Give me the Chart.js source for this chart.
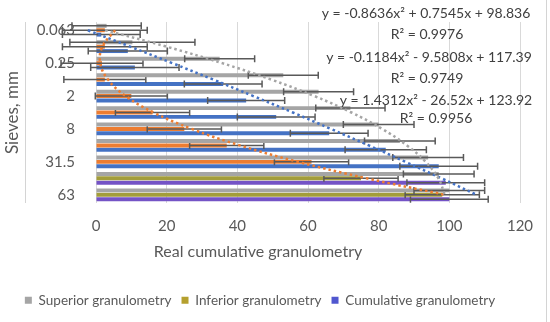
<!DOCTYPE html>
<html>
<head>
<meta charset="utf-8">
<script src="https://cdn.jsdelivr.net/npm/chart.js@4.4.1/dist/chart.umd.min.js"></script>
<style>
  html, body { margin: 0; padding: 0; background: #fff; }
  #box { width: 550px; height: 322px; position: relative; }
</style>
</head>
<body>
<div id="box"><canvas id="sieveChart"></canvas></div>
<script>
// sieve sizes, top to bottom
const sieves = ['0.063', '0.125', '0.25', '0.5', '2', '4', '8', '16', '31.5', '40', '63'];

// bar values (% passing)
const superior   = [3, 10.3, 35, 53, 63, 72, 80, 86, 94, 97, 100];
const inferior   = [2.5, 2.5, 1.7, 2.5, 10, 16, 25, 37, 61, 75, 98];
const cumulative = [1.5, 9, 11, 36, 42.5, 51, 66, 82, 97, 99, 100];

// error bar half widths
const superiorErr   = [9.8, 17.7, 9.9, 9.9, 9.9, 9.8, 10, 10, 10, 10, 10];
const inferiorErr   = [12, 12, 11.6, 11.6, 10.2, 10.5, 10.5, 10.5, 10.5, 10.5, 10.5];
const cumulativeErr = [11, 11.2, 12.5, 11, 10.9, 11, 11, 11.5, 11, 11, 11];

// polynomial trendlines at each sieve (from the equations shown)
const superiorTrend   = [2.6, 20.0, 35.7, 49.6, 61.8, 72.3, 81.0, 88.0, 93.3, 96.9, 98.7];
const cumulativeTrend = [-2.3, 9.7, 21.6, 33.2, 44.5, 55.7, 66.5, 77.2, 87.6, 97.8, 107.7];
const inferiorTrend   = [5.4, 1.8, 1.2, 3.4, 8.4, 16.3, 27.1, 40.7, 57.2, 76.6, 98.8];

const equations = [
  'y = -0.8636x² + 0.7545x + 98.836', 'R² = 0.9976',
  'y = -0.1184x² - 9.5808x + 117.39', 'R² = 0.9749',
  'y = 1.4312x² - 26.52x + 123.92', 'R² = 0.9956'
];

const legendNames = ['Superior granulometry', 'Inferior granulometry', 'Cumulative granulometry'];
const legendColors = ['#a5a5a5', '#b5a02e', '#5057cf'];

const xTicks = [0, 20, 40, 60, 80, 100, 120];

Chart.defaults.font.family = 'Lato, "Open Sans", sans-serif';
Chart.defaults.color = '#595959';

const inferiorColors = sieves.map((s, i) => i < 9 ? '#ed7d31' : '#a39d3a');
const cumulativeColors = sieves.map((s, i) => i < 9 ? '#4472c4' : '#7453c6');

// error bars drawn right after each bar series
const errorBars = {
  id: 'errorBars',
  afterDatasetDraw(chart, args) {
    const ds = chart.data.datasets[args.index];
    if (!ds.errors) return;
    const ctx = chart.ctx;
    const xs = chart.scales.x;
    ctx.save();
    ctx.strokeStyle = '#595959';
    ctx.lineWidth = 1.5;
    args.meta.data.forEach((bar, i) => {
      const x1 = xs.getPixelForValue(ds.data[i] - ds.errors[i]);
      const x2 = xs.getPixelForValue(ds.data[i] + ds.errors[i]);
      const y = bar.y;
      ctx.beginPath();
      ctx.moveTo(x1, y); ctx.lineTo(x2, y);
      ctx.moveTo(x1, y - 3.5); ctx.lineTo(x1, y + 3.5);
      ctx.moveTo(x2, y - 3.5); ctx.lineTo(x2, y + 3.5);
      ctx.stroke();
    });
    ctx.restore();
  }
};

const extras = {
  id: 'extras',
  beforeDraw(chart) {
    const ctx = chart.ctx;
    ctx.save();
    ctx.strokeStyle = '#d4d4d4';
    ctx.lineWidth = 1;
    ctx.beginPath();
    ctx.moveTo(25.5, chart.chartArea.top); ctx.lineTo(25.5, chart.chartArea.bottom);
    ctx.moveTo(546.5, 0); ctx.lineTo(546.5, chart.height);
    ctx.stroke();
    ctx.restore();
  },
  afterDraw(chart) {
    const ctx = chart.ctx;
    ctx.save();
    ctx.textAlign = 'center';
    ctx.textBaseline = 'middle';
    ctx.fillStyle = '#595959';
    ctx.font = '16px Lato, sans-serif';
    ctx.fillText('Real cumulative granulometry', 258, 252);
    ctx.fillStyle = '#404040';
    ctx.font = '14px Lato, sans-serif';
    const pos = [[426, 13], [427, 34], [429, 57], [427, 78], [436, 100], [436, 118]];
    equations.forEach((t, i) => ctx.fillText(t, pos[i][0], pos[i][1]));
    ctx.restore();
  }
};

const trendStyle = {
  type: 'line', indexAxis: 'y', borderWidth: 2.5, borderDash: [2.5, 3],
  pointRadius: 0, tension: 0.4, fill: false, clip: false, order: 0
};

new Chart(document.getElementById('sieveChart'), {
  type: 'bar',
  data: {
    labels: sieves,
    datasets: [
      { label: legendNames[0], data: superior, errors: superiorErr, backgroundColor: '#a5a5a5', order: 1 },
      { label: legendNames[1], data: inferior, errors: inferiorErr, backgroundColor: inferiorColors, order: 1 },
      { label: legendNames[2], data: cumulative, errors: cumulativeErr, backgroundColor: cumulativeColors, order: 1 },
      Object.assign({ label: 'trend superior', data: superiorTrend, borderColor: '#a5a5a5' }, trendStyle),
      Object.assign({ label: 'trend cumulative', data: cumulativeTrend, borderColor: '#4472c4' }, trendStyle),
      Object.assign({ label: 'trend inferior', data: inferiorTrend, borderColor: '#ed7d31' }, trendStyle)
    ]
  },
  options: {
    indexAxis: 'y',
    responsive: true,
    maintainAspectRatio: false,
    animation: false,
    devicePixelRatio: 1,
    datasets: { bar: { categoryPercentage: 0.8, barPercentage: 0.9 } },
    layout: { padding: { top: 21, right: 30, bottom: 5, left: 0 } },
    scales: {
      x: {
        min: 0, max: 120,
        afterBuildTicks: s => { s.ticks = xTicks.map(v => ({ value: v })); },
        afterFit: s => { s.height = 80.5; },
        grid: { color: '#d9d9d9', drawTicks: false },
        border: { display: false },
        ticks: { font: { size: 15 }, padding: 14 }
      },
      y: {
        afterFit: s => { s.width = 96; },
        grid: { display: false },
        border: { display: false },
        ticks: {
          autoSkip: false, padding: 13, font: { size: 15 },
          callback: function (v, i) { return i % 2 === 0 ? this.getLabelForValue(v) : ''; }
        },
        title: { display: true, text: 'Sieves, mm', font: { size: 17 }, padding: { top: 2, bottom: 0 } }
      }
    },
    plugins: {
      tooltip: { enabled: false },
      legend: {
        position: 'bottom',
        labels: {
          boxWidth: 7, boxHeight: 7, padding: 10, font: { size: 13.5 }, color: '#595959',
          generateLabels: () => legendNames.map((t, i) => ({
            text: t, fillStyle: legendColors[i], strokeStyle: legendColors[i],
            lineWidth: 0, hidden: false, datasetIndex: i, fontColor: '#595959'
          }))
        }
      }
    }
  },
  plugins: [errorBars, extras]
});
</script>
</body>
</html>
